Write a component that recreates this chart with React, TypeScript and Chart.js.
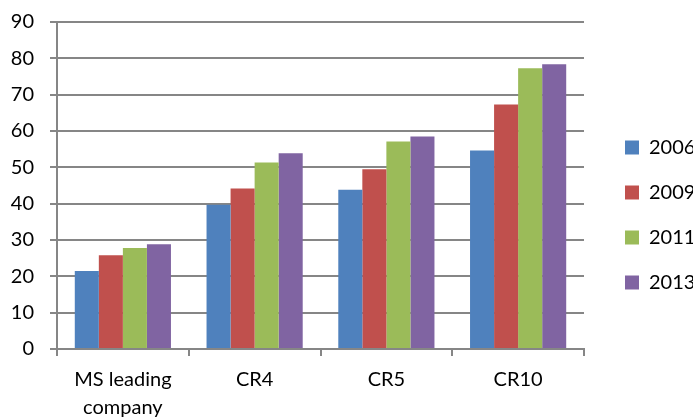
import React, { useEffect, useRef } from "react";
import { Chart, registerables } from "chart.js";

Chart.register(...registerables);

const categories: (string | string[])[] = [["MS leading", "company"], "CR4", "CR5", "CR10"];
const seriesLabels = ["2006", "2009", "2011", "2013"];
const seriesColors = ["#4F81BD", "#C0504D", "#9BBB59", "#8064A2"];
const values2006 = [21.5, 39.7, 43.8, 54.6];
const values2009 = [25.8, 44.2, 49.5, 67.3];
const values2011 = [27.8, 51.3, 57.1, 77.3];
const values2013 = [28.8, 53.9, 58.5, 78.4];
const yMin = 0;
const yMax = 90;
const yStep = 10;

const FONT = "Lato, Calibri, 'Open Sans', sans-serif";
const GRID = "#868686";

export default function App() {
  const canvasRef = useRef<HTMLCanvasElement | null>(null);

  useEffect(() => {
    if (!canvasRef.current) return;
    const allValues = [values2006, values2009, values2011, values2013];
    const chart = new Chart(canvasRef.current, {
      type: "bar",
      data: {
        labels: categories,
        datasets: seriesLabels.map((label, i) => ({
          label,
          data: allValues[i],
          backgroundColor: seriesColors[i],
          borderWidth: 0,
          barPercentage: 1,
          categoryPercentage: 0.73,
        })),
      },
      options: {
        animation: false,
        responsive: false,
        layout: { padding: { left: 0, right: 0, top: 10, bottom: 0 } },
        plugins: {
          tooltip: { enabled: false },
          legend: {
            position: "right",
            maxWidth: 93,
            labels: {
              boxWidth: 14,
              boxHeight: 14,
              padding: 25,
              color: "#000",
              font: { family: FONT, size: 20 },
            },
          },
        },
        scales: {
          x: {
            grid: {
              display: true,
              drawOnChartArea: false,
              drawTicks: true,
              tickLength: 7,
              color: GRID,
              lineWidth: 2,
              offset: true,
            },
            border: { display: true, color: GRID, width: 2 },
            ticks: {
              color: "#000",
              padding: 10,
              maxRotation: 0,
              font: { family: FONT, size: 20, lineHeight: 1.4 },
            },
            afterFit: (scale: any) => {
              scale.paddingLeft = 0;
              scale.paddingRight = 0;
              scale.height = 71;
            },
          },
          y: {
            min: yMin,
            max: yMax,
            grid: { color: GRID, lineWidth: 2, tickLength: 7 },
            border: { display: true, color: GRID, width: 2 },
            ticks: {
              stepSize: yStep,
              color: "#000",
              padding: 16,
              font: { family: FONT, size: 20 },
            },
            afterFit: (scale: any) => {
              scale.paddingTop = 22;
              scale.paddingBottom = 0;
              scale.width = 57;
            },
          },
          // empty axis that keeps a gap between the plot and the legend
          spacer: {
            type: "linear",
            position: "right",
            display: true,
            grid: { display: false, drawTicks: false },
            border: { display: false },
            ticks: { display: false },
            afterFit: (scale: any) => {
              scale.width = 16;
            },
          },
        },
      },
    });
    return () => chart.destroy();
  }, []);

  return (
    <div style={{ position: "fixed", left: 0, top: 0, width: 693, height: 420, background: "#fff" }}>
      <canvas ref={canvasRef} width={693} height={420} style={{ width: 693, height: 420 }} />
    </div>
  );
}
